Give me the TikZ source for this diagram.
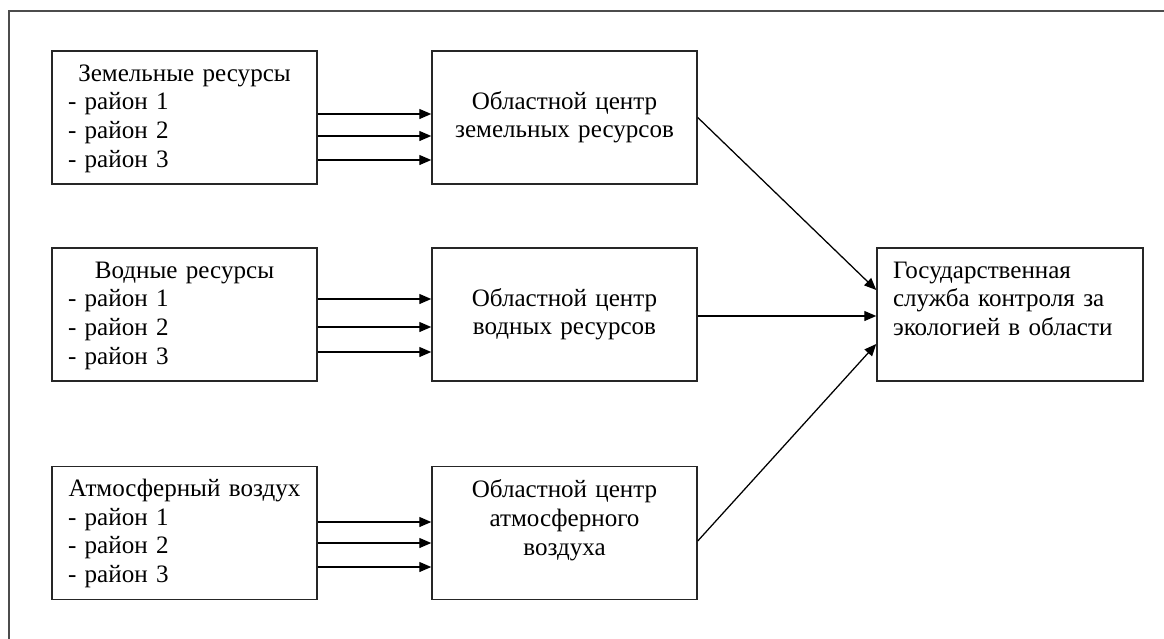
\documentclass[tikz,border=0pt]{standalone}
\usepackage{fontspec}
\setmainfont{Liberation Serif}
\usetikzlibrary{arrows.meta,calc}

\begin{document}
\begin{tikzpicture}[x=0.75pt,y=-0.75pt,
box/.style={draw=black!85,line width=1.1pt,minimum width=198.75pt,minimum height=99.75pt,
  inner ysep=0pt,inner xsep=12pt,text height=22.5pt,text depth=77.25pt,
  font=\fontsize{18.8pt}{21.5pt}\selectfont},
srcbox/.style={box,text width=174.75pt,align=left},
centrebox/.style={box,text width=174.75pt,align=center},
mainbox/.style={box,text width=175.5pt,align=left},
feed/.style={draw=black,line width=0.95pt,-{Triangle[length=9pt,width=7.5pt]}}]
\useasboundingbox (0,0) rectangle (1164,639);
\draw[line width=1.5pt,black!70] (1164,11) -- (9,11) -- (9,639);

\node (a1) at (184.5,117.5) [srcbox] {\makebox[\linewidth]{Земельные ресурсы}\\- район 1\\- район 2\\- район 3};
\node (a2) at (184.5,314.5) [srcbox] {\makebox[\linewidth]{Водные ресурсы}\\- район 1\\- район 2\\- район 3};
\node (a3) at (184.5,533) [srcbox] {\makebox[\linewidth]{Атмосферный воздух}\\- район 1\\- район 2\\- район 3};

\node (b1) at (564.5,117.5) [centrebox,text height=43.5pt,text depth=56.25pt] {Областной центр\\земельных ресурсов};
\node (b2) at (564.5,314.5) [centrebox,text height=43.5pt,text depth=56.25pt] {Областной центр\\водных ресурсов};
\node (b3) at (564.5,533) [centrebox,text height=23.5pt,text depth=76.25pt] {Областной центр\\атмосферного\\воздуха};

\node (c) at (1010,314.5) [mainbox] {Государственная\\служба контроля за\\экологией в области};

\foreach \dy in {-3.5,18.5,42.5}
  \draw[feed] ($(a1.east)+(0,\dy)$) -- ($(b1.west)+(0,\dy)$);
\foreach \dy in {-15.5,12.5,37.5}
  \draw[feed] ($(a2.east)+(0,\dy)$) -- ($(b2.west)+(0,\dy)$);
\foreach \dy in {-11,10,34}
  \draw[feed] ($(a3.east)+(0,\dy)$) -- ($(b3.west)+(0,\dy)$);

\draw[feed] (b1.east) -- ($(c.west)+(0,-24.5)$);
\draw[feed] ($(b2.east)+(0,1.5)$) -- ($(c.west)+(0,1.5)$);
\draw[feed] ($(b3.east)+(0,8)$) -- ($(c.west)+(0,29.5)$);
\end{tikzpicture}
\end{document}
